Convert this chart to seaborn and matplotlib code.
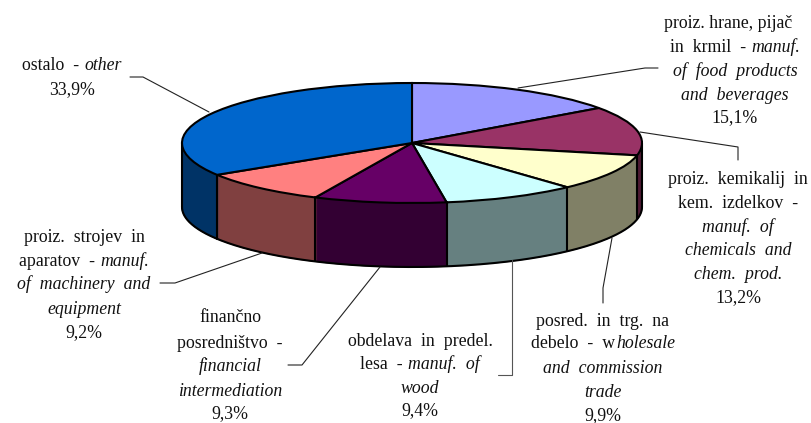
import numpy as np
import matplotlib
matplotlib.use('Agg')
import matplotlib.pyplot as plt
from matplotlib.colors import to_rgb
from matplotlib.lines import Line2D
import seaborn as sns

# delezi po panogah
labels = ['proiz. hrane', 'proiz. kemikalij', 'posred. in trg.', 'obdelava lesa',
          'financno posr.', 'proiz. strojev', 'ostalo']
values = [15.1, 13.2, 9.9, 9.4, 9.3, 9.2, 33.9]
colors = ['#9999FF', '#993366', '#FFFFCC', '#CCFFFF', '#660066', '#FF8080', '#0066CC']

W, H = 811, 423
CX, CY, RX, RY, DEPTH = 412, 143, 230, 60, 64

sns.set_theme(style='white')
plt.rcParams['font.family'] = ['Liberation Serif', 'DejaVu Serif']

fig = plt.figure(figsize=(W / 100, H / 100), dpi=100, facecolor='white')
ax = fig.add_axes([0, 0, 1, 1])
side_colors = [tuple(np.array(to_rgb(c)) * 0.5) for c in colors]

# stranica torte - vec plasti jedna na drugu
for k in range(DEPTH, 0, -1):
    layer, _ = ax.pie(values, colors=side_colors, startangle=90, counterclock=False, radius=1,
                      center=(0, -k / RY))
    for w in layer:
        w.set_edgecolor(w.get_facecolor())
        w.set_linewidth(0.8)

# gornja ploha
wedges, _ = ax.pie(values, colors=colors, startangle=90, counterclock=False, radius=1,
                   center=(0, 0), wedgeprops={'linewidth': 1.5, 'edgecolor': 'black'})

ax.set_aspect('auto')
ax.set_xlim(-CX / RX, (W - CX) / RX)
ax.set_ylim(-(H - CY) / RY, CY / RY)

d = DEPTH / RY
t = np.linspace(np.pi, 2 * np.pi, 300)
ax.plot(np.cos(t), np.sin(t) - d, color='black', lw=1.5)
ax.plot([-1, -1], [0, -d], color='black', lw=1.5)
ax.plot([1, 1], [0, -d], color='black', lw=1.5)
for w in wedges:
    a = np.deg2rad(w.theta1)
    if np.sin(a) < -0.02:
        ax.plot([np.cos(a)] * 2, [np.sin(a), np.sin(a) - d], color='black', lw=1.5)


def leader(pts, color='#222222'):
    xs = [p[0] / W for p in pts]
    ys = [1 - p[1] / H for p in pts]
    fig.add_artist(Line2D(xs, ys, color=color, lw=0.8))


def line(cx, y, runs):
    # vrstica z mesanim pokoncnim in postevnim tekstom
    r = fig.canvas.get_renderer()
    gap = 1 if runs[0][0].endswith('w') else 6
    items = []
    for s, style in runs:
        items.append(fig.text(0, 1 - (y + 1) / H, s, style=style, fontsize=12.8, color='#111111',
                              ha='left', va='center'))
    widths = [i.get_window_extent(r).width for i in items]
    x = cx - (sum(widths) + gap * (len(items) - 1)) / 2
    for i, w in zip(items, widths):
        i.set_x(x / W)
        x += w + gap


N, I = 'normal', 'italic'
blocks = [
    (728, [(23, [('proiz. hrane, pijač', N)])]),
    (735, [(46, [('in  krmil  -', N), ('manuf.', I)]),
           (70, [('of  food  products', I)]),
           (94, [('and  beverages', I)]),
           (117, [('15,1%', N)])]),
    (738, [(178, [('proiz.  kemikalij  in', N)]),
           (202, [('kem.  izdelkov  -', N)]),
           (226, [('manuf.  of', I)]),
           (249, [('chemicals  and', I)]),
           (273, [('chem.  prod.', I)]),
           (297, [('13,2%', N)])]),
    (603, [(320, [('posred.  in  trg.  na', N)]),
           (343, [('debelo  -  w', N), ('holesale', I)]),
           (367, [('and  commission', I)]),
           (391, [('trade', I)]),
           (415, [('9,9%', N)])]),
    (420, [(340, [('obdelava  in  predel.', N)]),
           (363, [('lesa  -', N), ('manuf.  of', I)]),
           (387, [('wood', I)]),
           (410, [('9,4%', N)])]),
    (230, [(317, [('finančno', N)]),
           (342, [('posredništvo  -', N)]),
           (365, [('financial', I)]),
           (390, [('intermediation', I)]),
           (413, [('9,3%', N)])]),
    (84, [(236, [('proiz.  strojev  in', N)]),
          (260, [('aparatov  -', N), ('manuf.', I)]),
          (283, [('of  machinery  and', I)]),
          (308, [('equipment', I)]),
          (332, [('9,2%', N)])]),
    (72, [(65, [('ostalo  -', N), ('other', I)]),
          (89, [('33,9%', N)])]),
]
for cx, rows in blocks:
    for y, runs in rows:
        line(cx, y, runs)

leader([(130, 77), (143, 77), (209, 112)])
leader([(518, 88), (645, 68), (658, 68)])
leader([(640, 132), (738, 147), (738, 160)])
leader([(612, 238), (603, 288), (603, 303)])
leader([(512, 260), (512, 375), (498, 375)], color='#555555')
leader([(380, 267), (302, 365), (288, 365)])
leader([(262, 253), (175, 283), (160, 283)])

fig.savefig('out.png', dpi=100)
